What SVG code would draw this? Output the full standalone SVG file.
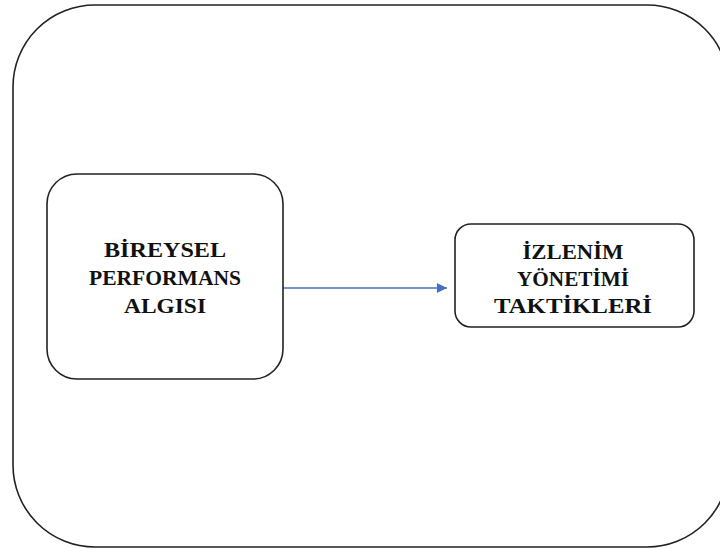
<svg xmlns="http://www.w3.org/2000/svg" width="720" height="549" viewBox="0 0 720 549">
<defs>
<style>
.frame{fill:none;stroke:#222;stroke-width:1.6}
.box{fill:#fff;stroke:#222;stroke-width:1.6}
.lbl{font-family:"Liberation Serif","Times New Roman",serif;font-weight:bold;font-size:21px;fill:#111;text-anchor:middle}
.conn{stroke:#4472C4;stroke-width:1.3;fill:none}
</style>
<marker id="ah" viewBox="0 0 10 10" refX="10" refY="5" markerWidth="10" markerHeight="10" markerUnits="userSpaceOnUse" orient="auto">
<path d="M0,0 L10,5 L0,10 z" fill="#4472C4"/>
</marker>
</defs>
<rect width="720" height="549" fill="#fff"/>
<g id="frame">
<rect class="frame" x="13" y="5" width="716" height="542" rx="82" ry="82"/>
</g>
<g id="connectors">
<line class="conn" x1="283" y1="288" x2="447" y2="288" marker-end="url(#ah)"/>
</g>
<g id="node-bireysel">
<rect class="box" x="47" y="174" width="236" height="205" rx="30" ry="30"/>
<text class="lbl" x="165" y="257" textLength="122" lengthAdjust="spacingAndGlyphs">BİREYSEL</text>
<text class="lbl" x="165" y="285" textLength="152" lengthAdjust="spacingAndGlyphs">PERFORMANS</text>
<text class="lbl" x="165" y="313" textLength="82" lengthAdjust="spacingAndGlyphs">ALGISI</text>
</g>
<g id="node-izlenim">
<rect class="box" x="455" y="224" width="239" height="103" rx="16" ry="16"/>
<text class="lbl" x="573" y="259" textLength="101" lengthAdjust="spacingAndGlyphs">İZLENİM</text>
<text class="lbl" x="573" y="286" textLength="112" lengthAdjust="spacingAndGlyphs">YÖNETİMİ</text>
<text class="lbl" x="573" y="313" textLength="158" lengthAdjust="spacingAndGlyphs">TAKTİKLERİ</text>
</g>
</svg>
